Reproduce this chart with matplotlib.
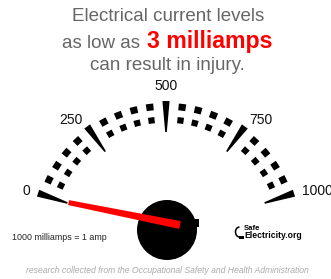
import numpy as np
import matplotlib
matplotlib.use("Agg")
import matplotlib.pyplot as plt
from matplotlib.patches import Circle, Rectangle, Arc

plt.rcParams['font.family'] = ['Liberation Sans', 'DejaVu Sans']

# gauge data
major_ticks = [0, 250, 500, 750, 1000]
major_labels = ['0', '250', '500', '750', '1000']
minor_ticks = [50, 100, 150, 200, 300, 350, 400, 450,
               550, 600, 650, 700, 800, 850, 900, 950]
needle_value = 3  # milliamps

W, H = 331, 279
CX, CY = 166, 236      # gauge centre in pixels (y down)
RMAX = 160


def val2theta(v):
    # 0 sits a little below horizontal on the left, 1000 on the right
    return np.deg2rad(161.5 - 0.143 * np.asarray(v, dtype=float))


fig = plt.figure(figsize=(W / 100, H / 100), dpi=100)
fig.patch.set_facecolor('white')

# flat pixel axes for the texts and the hub
bg = fig.add_axes([0, 0, 1, 1])
bg.set_xlim(0, W)
bg.set_ylim(H, 0)
bg.axis('off')

# polar axes for the dial
ax = fig.add_axes([(CX - RMAX) / W, (H - CY - RMAX) / H, 2 * RMAX / W, 2 * RMAX / H],
                  projection='polar')
ax.set_ylim(0, RMAX)
ax.axis('off')
ax.patch.set_alpha(0)

# two rows of small dashes
th_minor = val2theta(minor_ticks)
ax.bar(th_minor, 6.8, width=np.deg2rad(3.2), bottom=126.3, color='black', lw=0)
ax.bar(th_minor, 6.2, width=np.deg2rad(3.1), bottom=113.3, color='black', lw=0)

# wedge shaped major ticks + labels
for v, lab in zip(major_ticks, major_labels):
    th = val2theta(v)
    ao, ai = 3.6 / 135, 0.8 / 104
    ax.fill([th - ao, th + ao, th + ai, th - ai], [135, 135, 104, 104],
            color='black', lw=0)
    c = np.cos(th)
    if c < -0.1:
        ha, va = 'right', 'center'
    elif c > 0.1:
        ha, va = 'left', 'center'
    else:
        ha, va = 'center', 'bottom'
    ax.text(th, 143, lab, ha=ha, va=va, fontsize=10, color='#111111')

# hub
bg.add_patch(Circle((167, 230), 30, color='black', lw=0))
bg.add_patch(Rectangle((195, 219), 4, 8, color='black', lw=0))

# needle (tapered, pivot sits a bit right of the dial centre)
th_n = val2theta(needle_value)
tip = np.array([103 * np.cos(th_n), 103 * np.sin(th_n)])
tail = np.array([14.0, 11.0])
d = tip - tail
perp = np.array([-d[1], d[0]]) / np.hypot(*d)
pts = np.array([tip + perp * 2.5, tip - perp * 2.5, tail - perp * 4.0, tail + perp * 4.0])
ax.fill(np.arctan2(pts[:, 1], pts[:, 0]), np.hypot(pts[:, 0], pts[:, 1]),
        color='#ff0000', lw=0, zorder=5)

# headline
gray = '#666666'
bg.text(168.5, 21, 'Electrical current levels', ha='center', va='baseline',
        fontsize=13.5, color=gray)
bg.text(140, 48, 'as low as', ha='right', va='baseline', fontsize=13.5, color=gray)
bg.text(147, 48, '3 milliamps', ha='left', va='baseline', fontsize=16.7,
        color='#ff0000', fontweight='bold')
bg.text(167.5, 70, 'can result in injury.', ha='center', va='baseline',
        fontsize=13.5, color=gray)

bg.text(12, 240, '1000 milliamps = 1 amp', ha='left', va='baseline',
        fontsize=6.4, color='#222222')

# logo
bg.add_patch(Arc((239.5, 232), 8, 10, theta1=90, theta2=270, lw=1.1, color='black'))
bg.add_patch(Rectangle((239, 235.5), 5, 3, color='black', lw=0))
bg.text(243.5, 230, 'Safe', ha='left', va='baseline', fontsize=5.6,
        fontweight='bold', color='black')
bg.text(244.5, 238.5, 'Electricity.org', ha='left', va='baseline', fontsize=6.2,
        fontweight='bold', color='black')

bg.text(167.5, 273, 'research collected from the Occupational Safety and Health Administration',
        ha='center', va='baseline', fontsize=6.2, style='italic', color='#aaaaaa')

fig.savefig('out.png', dpi=100)
